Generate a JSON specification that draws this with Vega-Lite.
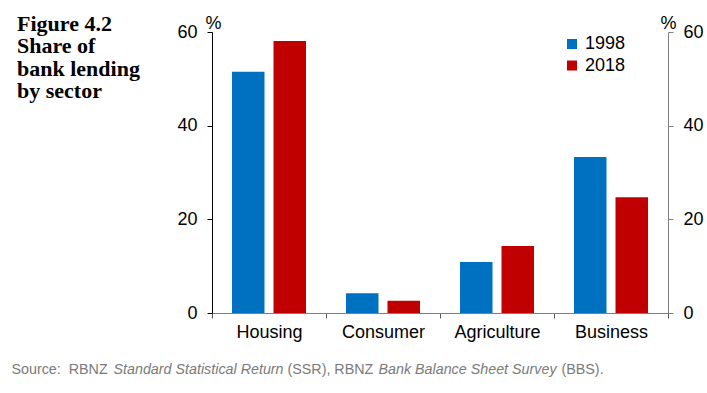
{
  "$schema": "https://vega.github.io/schema/vega-lite/v6.json",
  "width": 456,
  "height": 281,
  "autosize": {"type": "none"},
  "padding": {"left": 212, "top": 32, "right": 39, "bottom": 80},
  "background": "white",
  "config": {
    "view": {"stroke": null},
    "font": "Liberation Sans",
    "axis": {"grid": false}
  },
  "title": {
    "text": ["Figure 4.2", "Share of", "bank lending", "by sector"],
    "anchor": "start",
    "frame": "group",
    "font": "Liberation Serif",
    "fontSize": 22,
    "fontWeight": "bold",
    "lineHeight": 22.5,
    "color": "#000000",
    "offset": 0,
    "dx": -195,
    "dy": 89
  },
  "data": {
    "values": [
      {"sector": "Housing", "year": "1998", "value": 51.5},
      {"sector": "Housing", "year": "2018", "value": 58.1},
      {"sector": "Consumer", "year": "1998", "value": 4.2},
      {"sector": "Consumer", "year": "2018", "value": 2.6},
      {"sector": "Agriculture", "year": "1998", "value": 10.9},
      {"sector": "Agriculture", "year": "2018", "value": 14.3},
      {"sector": "Business", "year": "1998", "value": 33.3},
      {"sector": "Business", "year": "2018", "value": 24.7}
    ]
  },
  "layer": [
    {
      "mark": {"type": "bar"},
      "encoding": {
        "x": {
          "field": "sector",
          "type": "nominal",
          "sort": ["Housing", "Consumer", "Agriculture", "Business"],
          "scale": {"paddingInner": 0, "paddingOuter": 0},
          "axis": {
            "orient": "bottom",
            "tickBand": "extent",
            "tickSize": 5,
            "tickColor": "#595959",
            "domainColor": "#7f7f7f",
            "labelAngle": 0,
            "labelFontSize": 18,
            "labelColor": "#000000",
            "labelPadding": 5,
            "title": "Source:\u00a0 RBNZ",
            "titleX": -201,
            "titleY": 60,
            "titleAlign": "left",
            "titleBaseline": "alphabetic",
            "titleFontSize": 14.3,
            "titleFontWeight": "normal",
            "titleColor": "#7a7a7a"
          }
        },
        "xOffset": {
          "field": "year",
          "type": "nominal",
          "scale": {"paddingInner": 0.2169, "paddingOuter": 0.4819}
        },
        "y": {
          "field": "value",
          "type": "quantitative",
          "scale": {"domain": [0, 60], "nice": false},
          "axis": {
            "orient": "left",
            "values": [0, 20, 40, 60],
            "domainColor": "#000000",
            "tickColor": "#000000",
            "tickSize": 5,
            "labelPadding": 10,
            "labelFontSize": 18,
            "labelColor": "#000000",
            "title": "%",
            "titleAngle": 0,
            "titleX": 1,
            "titleY": -4,
            "titleAlign": "center",
            "titleBaseline": "alphabetic",
            "titleFontSize": 18,
            "titleFontWeight": "normal",
            "titleColor": "#000000"
          }
        },
        "color": {
          "field": "year",
          "type": "nominal",
          "scale": {"domain": ["1998", "2018"], "range": ["#0070C0", "#C00000"]},
          "legend": {
            "orient": "none",
            "legendX": 351,
            "legendY": 3,
            "title": null,
            "padding": 0,
            "symbolType": "square",
            "symbolSize": 100,
            "symbolStrokeWidth": 0,
            "labelFontSize": 18,
            "labelColor": "#000000",
            "labelOffset": 4,
            "rowPadding": 3.5
          }
        }
      }
    },
    {
      "mark": {"type": "bar", "opacity": 0},
      "encoding": {
        "x": {
          "field": "sector",
          "type": "nominal",
          "sort": ["Housing", "Consumer", "Agriculture", "Business"],
          "axis": {
            "orient": "bottom",
            "domain": false, "ticks": false, "labels": false,
            "title": "Standard Statistical Return",
            "titleX": -99, "titleY": 60,
            "titleAlign": "left", "titleBaseline": "alphabetic",
            "titleFontSize": 14.3, "titleFontWeight": "normal",
            "titleFontStyle": "italic", "titleColor": "#7a7a7a"
          }
        },
        "y": {
          "field": "value",
          "type": "quantitative",
          "stack": null,
          "axis": {
            "orient": "right",
            "values": [0, 20, 40, 60],
            "domainColor": "#7f7f7f",
            "tickColor": "#7f7f7f",
            "tickSize": 5,
            "labelPadding": 10,
            "labelFontSize": 18,
            "labelColor": "#000000",
            "title": "%",
            "titleAngle": 0,
            "titleX": 0,
            "titleY": -4,
            "titleAlign": "center",
            "titleBaseline": "alphabetic",
            "titleFontSize": 18,
            "titleFontWeight": "normal",
            "titleColor": "#000000"
          }
        }
      }
    },
    {
      "mark": {"type": "bar", "opacity": 0},
      "encoding": {
        "x": {
          "field": "sector",
          "type": "nominal",
          "sort": ["Housing", "Consumer", "Agriculture", "Business"],
          "axis": {
            "orient": "bottom",
            "domain": false, "ticks": false, "labels": false,
            "title": "(SSR), RBNZ",
            "titleX": 75, "titleY": 60,
            "titleAlign": "left", "titleBaseline": "alphabetic",
            "titleFontSize": 14.3, "titleFontWeight": "normal",
            "titleColor": "#7a7a7a"
          }
        }
      }
    },
    {
      "mark": {"type": "bar", "opacity": 0},
      "encoding": {
        "x": {
          "field": "sector",
          "type": "nominal",
          "sort": ["Housing", "Consumer", "Agriculture", "Business"],
          "axis": {
            "orient": "bottom",
            "domain": false, "ticks": false, "labels": false,
            "title": "Bank Balance Sheet Survey",
            "titleX": 166, "titleY": 60,
            "titleAlign": "left", "titleBaseline": "alphabetic",
            "titleFontSize": 14.3, "titleFontWeight": "normal",
            "titleFontStyle": "italic", "titleColor": "#7a7a7a"
          }
        }
      }
    },
    {
      "mark": {"type": "bar", "opacity": 0},
      "encoding": {
        "x": {
          "field": "sector",
          "type": "nominal",
          "sort": ["Housing", "Consumer", "Agriculture", "Business"],
          "axis": {
            "orient": "bottom",
            "domain": false, "ticks": false, "labels": false,
            "title": "(BBS).",
            "titleX": 349, "titleY": 60,
            "titleAlign": "left", "titleBaseline": "alphabetic",
            "titleFontSize": 14.3, "titleFontWeight": "normal",
            "titleColor": "#7a7a7a"
          }
        }
      }
    }
  ],
  "resolve": {"axis": {"x": "independent", "y": "independent"}}
}
